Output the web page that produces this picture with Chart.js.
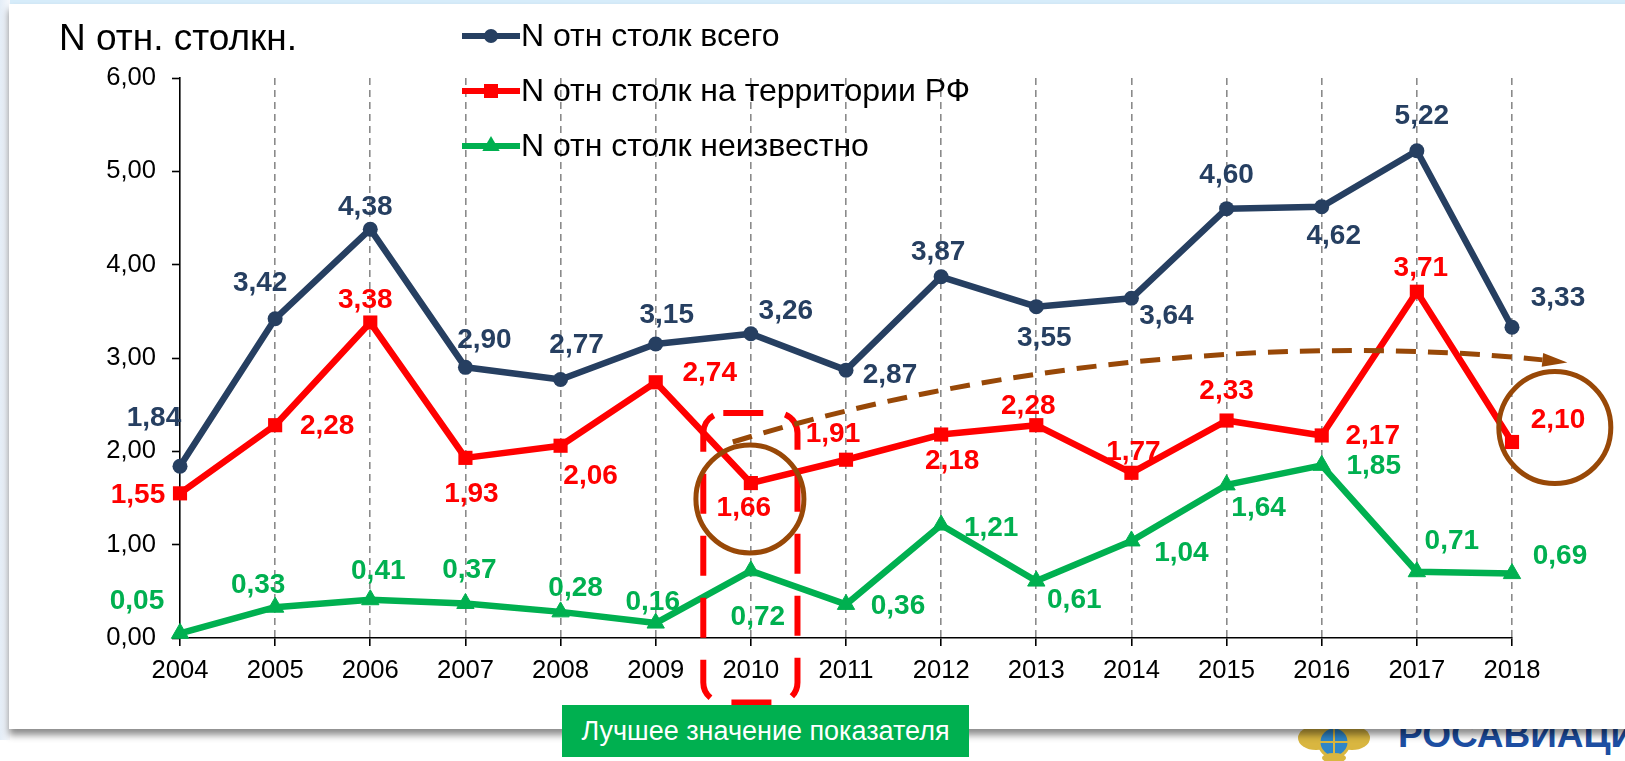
<!DOCTYPE html>
<html>
<head>
<meta charset="utf-8">
<script src="https://cdn.jsdelivr.net/npm/chart.js@4.4.1/dist/chart.umd.min.js"></script>
<style>
  html, body { margin:0; padding:0; width:1625px; height:761px; overflow:hidden; background:#ffffff; }
  #band { position:absolute; left:0; top:0; width:1625px; height:5px; background:#d6ecfa; z-index:0; }
  #leftstrip { position:absolute; left:0; top:0; width:10px; height:740px; background:linear-gradient(to right,#e4edf7,#f6f8fc); z-index:0; }
  #logo { position:absolute; left:1290px; top:698px; width:335px; height:63px; z-index:1; }
  #logoText { position:absolute; left:108px; top:15px; font-family:"Liberation Sans", Arial, sans-serif; font-weight:bold; font-size:37px; line-height:44px; color:#1d4ea2; letter-spacing:0px; white-space:nowrap; }
  #card { position:absolute; left:9px; top:4px; width:1700px; height:725px; background:#ffffff; box-shadow:0 6px 7px rgba(0,0,0,0.45); z-index:2; }
  #chartCanvas { position:absolute; left:0; top:0; z-index:3; }
  #best { position:absolute; left:562px; top:705px; width:407px; height:52px; background:#00b050; color:#ffffff; z-index:4;
          font-family:"Liberation Sans", Arial, sans-serif; font-size:27px; display:flex; align-items:center; justify-content:center; }
</style>
</head>
<body>
<div id="band"></div>
<div id="leftstrip"></div>
<div id="logo">
  <svg width="80" height="63" style="position:absolute;left:0;top:0">
    <ellipse cx="26" cy="40" rx="18" ry="12" fill="#d9b640"/>
    <ellipse cx="62" cy="40" rx="18" ry="12" fill="#d9b640"/>
    <circle cx="44" cy="44" r="15" fill="#2f86c8" stroke="#d9b640" stroke-width="3"/>
    <path d="M30 44 H58 M44 29 V59" stroke="#d9b640" stroke-width="2"/>
    <ellipse cx="44" cy="60" rx="12" ry="5" fill="#d9b640"/>
  </svg>
  <div id="logoText">РОСАВИАЦИЯ</div>
</div>
<div id="card"></div>
<canvas id="chartCanvas" width="1625" height="761"></canvas>
<div id="best">Лучшее значение показателя</div>

<script>
// ---------- data ----------
const years = ['2004','2005','2006','2007','2008','2009','2010','2011','2012','2013','2014','2015','2016','2017','2018'];
const totalValues   = [1.84, 3.42, 4.38, 2.90, 2.77, 3.15, 3.26, 2.87, 3.87, 3.55, 3.64, 4.60, 4.62, 5.22, 3.33];
const rfValues      = [1.55, 2.28, 3.38, 1.93, 2.06, 2.74, 1.66, 1.91, 2.18, 2.28, 1.77, 2.33, 2.17, 3.71, 2.10];
const unknownValues = [0.05, 0.33, 0.41, 0.37, 0.28, 0.16, 0.72, 0.36, 1.21, 0.61, 1.04, 1.64, 1.85, 0.71, 0.69];
const seriesNames   = ['N отн столк всего', 'N отн столк на территории РФ', 'N отн столк неизвестно'];
const yTickLabels   = ['0,00','1,00','2,00','3,00','4,00','5,00','6,00'];
const axisTitle     = 'N отн. столкн.';

// ---------- label placement (pixel offsets from each point) ----------
const totalLabelOffsets = [[-26,-48],[-15,-36],[-5,-22],[19,-27],[16,-34],[11,-29],[35,-22],[44,5],[-3,-25],[8,32],[35,18],[0,-33],[12,29],[5,-35],[46,-29]];
const rfLabelOffsets = [[-42,2],[52,1],[-5,-22],[6,36],[30,31],[54,-9],[-7,25],[-13,-25],[11,27],[-8,-19],[2,-21],[0,-29],[51,1],[4,-23],[46,-22]];
const unknownLabelOffsets = [[-43,-32],[-17,-22],[8,-28],[4,-33],[15,-24],[-3,-21],[7,46],[52,2],[50,3],[38,19],[50,12],[32,23],[52,1],[35,-30],[48,-17]];

const NAVY = '#263f61', RED = '#ff0000', GREEN = '#00b050', BROWN = '#984807';
const FONT = '"Liberation Sans", Arial, sans-serif';

function fmt(v) { return v.toFixed(2).replace('.', ','); }

// data labels
const dataLabelPlugin = {
  id: 'dataLabelPlugin',
  afterDatasetsDraw(chart) {
    const ctx = chart.ctx;
    const offs = [totalLabelOffsets, rfLabelOffsets, unknownLabelOffsets];
    ctx.save();
    ctx.font = 'bold 28px ' + FONT;
    ctx.textAlign = 'center';
    ctx.textBaseline = 'middle';
    chart.data.datasets.forEach((ds, i) => {
      const meta = chart.getDatasetMeta(i);
      ctx.fillStyle = ds.borderColor;
      meta.data.forEach((pt, j) => {
        const o = offs[i][j];
        ctx.fillText(fmt(ds.data[j]), pt.x + o[0], pt.y + o[1]);
      });
    });
    ctx.restore();
  }
};

// annotation shapes (positions in scale value space)
const annotationPlugin = {
  id: 'annotationPlugin',
  afterDatasetsDraw(chart) {
    const ctx = chart.ctx;
    const xs = chart.scales.x, ys = chart.scales.y;
    const P = (i, v) => [xs.getPixelForValue(i), ys.getPixelForValue(v)];
    ctx.save();
    // red dashed rounded rectangle around 2010
    const a = P(5.5, 2.41), b = P(6.49, -0.69);
    ctx.strokeStyle = RED; ctx.lineWidth = 6; ctx.setLineDash([40, 22]);
    ctx.beginPath();
    ctx.roundRect(a[0], a[1], b[0]-a[0], b[1]-a[1], 20);
    ctx.stroke();
    // brown dashed arrow
    const s = P(5.81, 2.10), c1 = P(8.62, 2.98), c2 = P(11.77, 3.25), e = P(14.32, 2.98);
    ctx.strokeStyle = BROWN; ctx.lineWidth = 5; ctx.setLineDash([20, 12]);
    ctx.beginPath(); ctx.moveTo(s[0], s[1]); ctx.bezierCurveTo(c1[0], c1[1], c2[0], c2[1], e[0], e[1]); ctx.stroke();
    ctx.setLineDash([]);
    let dx = e[0]-c2[0], dy = e[1]-c2[1]; const L = Math.hypot(dx, dy); dx/=L; dy/=L;
    ctx.fillStyle = BROWN;
    ctx.beginPath();
    ctx.moveTo(e[0] + dx*25, e[1] + dy*25);
    ctx.lineTo(e[0] - dy*7, e[1] + dx*7);
    ctx.lineTo(e[0] + dy*7, e[1] - dx*7);
    ctx.closePath(); ctx.fill();
    // brown circles
    ctx.strokeStyle = BROWN; ctx.lineWidth = 5;
    const c10 = P(5.99, 1.49);
    ctx.beginPath(); ctx.arc(c10[0], c10[1], 54, 0, Math.PI*2); ctx.stroke();
    const c18 = P(14.45, 2.255);
    ctx.beginPath(); ctx.arc(c18[0], c18[1], 56, 0, Math.PI*2); ctx.stroke();
    ctx.restore();
  }
};

// legend + axis title
const legendPlugin = {
  id: 'legendPlugin',
  afterDraw(chart) {
    const ctx = chart.ctx;
    ctx.save();
    ctx.fillStyle = '#000';
    ctx.font = '37px ' + FONT;
    ctx.textAlign = 'left'; ctx.textBaseline = 'middle';
    ctx.fillText(axisTitle, 59, 40);
    const rows = [36, 91, 146];
    chart.data.datasets.forEach((ds, i) => {
      const y = rows[i];
      ctx.strokeStyle = ds.borderColor; ctx.lineWidth = 6;
      ctx.beginPath(); ctx.moveTo(462, y); ctx.lineTo(520, y); ctx.stroke();
      ctx.fillStyle = ds.borderColor;
      const cx = 491;
      ctx.beginPath();
      if (ds.pointStyle === 'circle') { ctx.arc(cx, y, 7, 0, Math.PI*2); }
      else if (ds.pointStyle === 'rect') { ctx.rect(cx-7, y-7, 14, 14); }
      else { ctx.moveTo(cx, y-10); ctx.lineTo(cx+8.7, y+5); ctx.lineTo(cx-8.7, y+5); ctx.closePath(); }
      ctx.fill();
      ctx.fillStyle = '#000';
      ctx.font = '32px ' + FONT;
      ctx.fillText(seriesNames[i], 521, y + 1);
    });
    ctx.restore();
  }
};

new Chart(document.getElementById('chartCanvas'), {
  type: 'line',
  data: {
    labels: years,
    datasets: [
      { label: seriesNames[0], data: totalValues, borderColor: NAVY, backgroundColor: NAVY, borderWidth: 6.5,
        pointStyle: 'circle', pointRadius: 7.5, pointBorderWidth: 0, tension: 0, fill: false },
      { label: seriesNames[1], data: rfValues, borderColor: RED, backgroundColor: RED, borderWidth: 6.5,
        pointStyle: 'rect', pointRadius: 10, pointBorderWidth: 0, tension: 0, fill: false },
      { label: seriesNames[2], data: unknownValues, borderColor: GREEN, backgroundColor: GREEN, borderWidth: 6.5,
        pointStyle: 'triangle', pointRadius: 10, pointBorderWidth: 1, tension: 0, fill: false }
    ]
  },
  options: {
    responsive: false,
    animation: false,
    devicePixelRatio: 1,
    clip: false,
    layout: { padding: { top: 78, right: 113, left: 0, bottom: 0 } },
    plugins: { legend: { display: false }, title: { display: false }, tooltip: { enabled: false } },
    elements: { line: { borderJoinStyle: 'round', borderCapStyle: 'round' } },
    scales: {
      x: {
        type: 'category',
        offset: false,
        grid: {
          display: true, drawOnChartArea: true, drawTicks: true, tickLength: 8,
          color: (c) => (c.index === 0 ? 'rgba(0,0,0,0)' : '#8a8a8a'),
          lineWidth: 1.6, tickColor: '#000', tickWidth: 1.6, borderDash: [7, 5]
        },
        border: { display: true, color: '#000', width: 1.6, dash: [7, 5] },
        ticks: { color: '#000', font: { family: FONT, size: 25.6 }, padding: 10, maxRotation: 0, autoSkip: false },
        afterFit: (s) => { s.height = 123; }
      },
      y: {
        min: 0, max: 6,
        grid: { display: true, drawOnChartArea: false, drawTicks: true, tickLength: 8, tickColor: '#000', tickWidth: 1.6 },
        border: { display: true, color: '#000', width: 1.6 },
        ticks: { stepSize: 1, color: '#000', font: { family: FONT, size: 25.6 }, padding: 16,
                 callback: (v, idx) => yTickLabels[idx] },
        afterFit: (s) => { s.width = 180; }
      }
    }
  },
  plugins: [annotationPlugin, dataLabelPlugin, legendPlugin]
});
</script>
</body>
</html>
